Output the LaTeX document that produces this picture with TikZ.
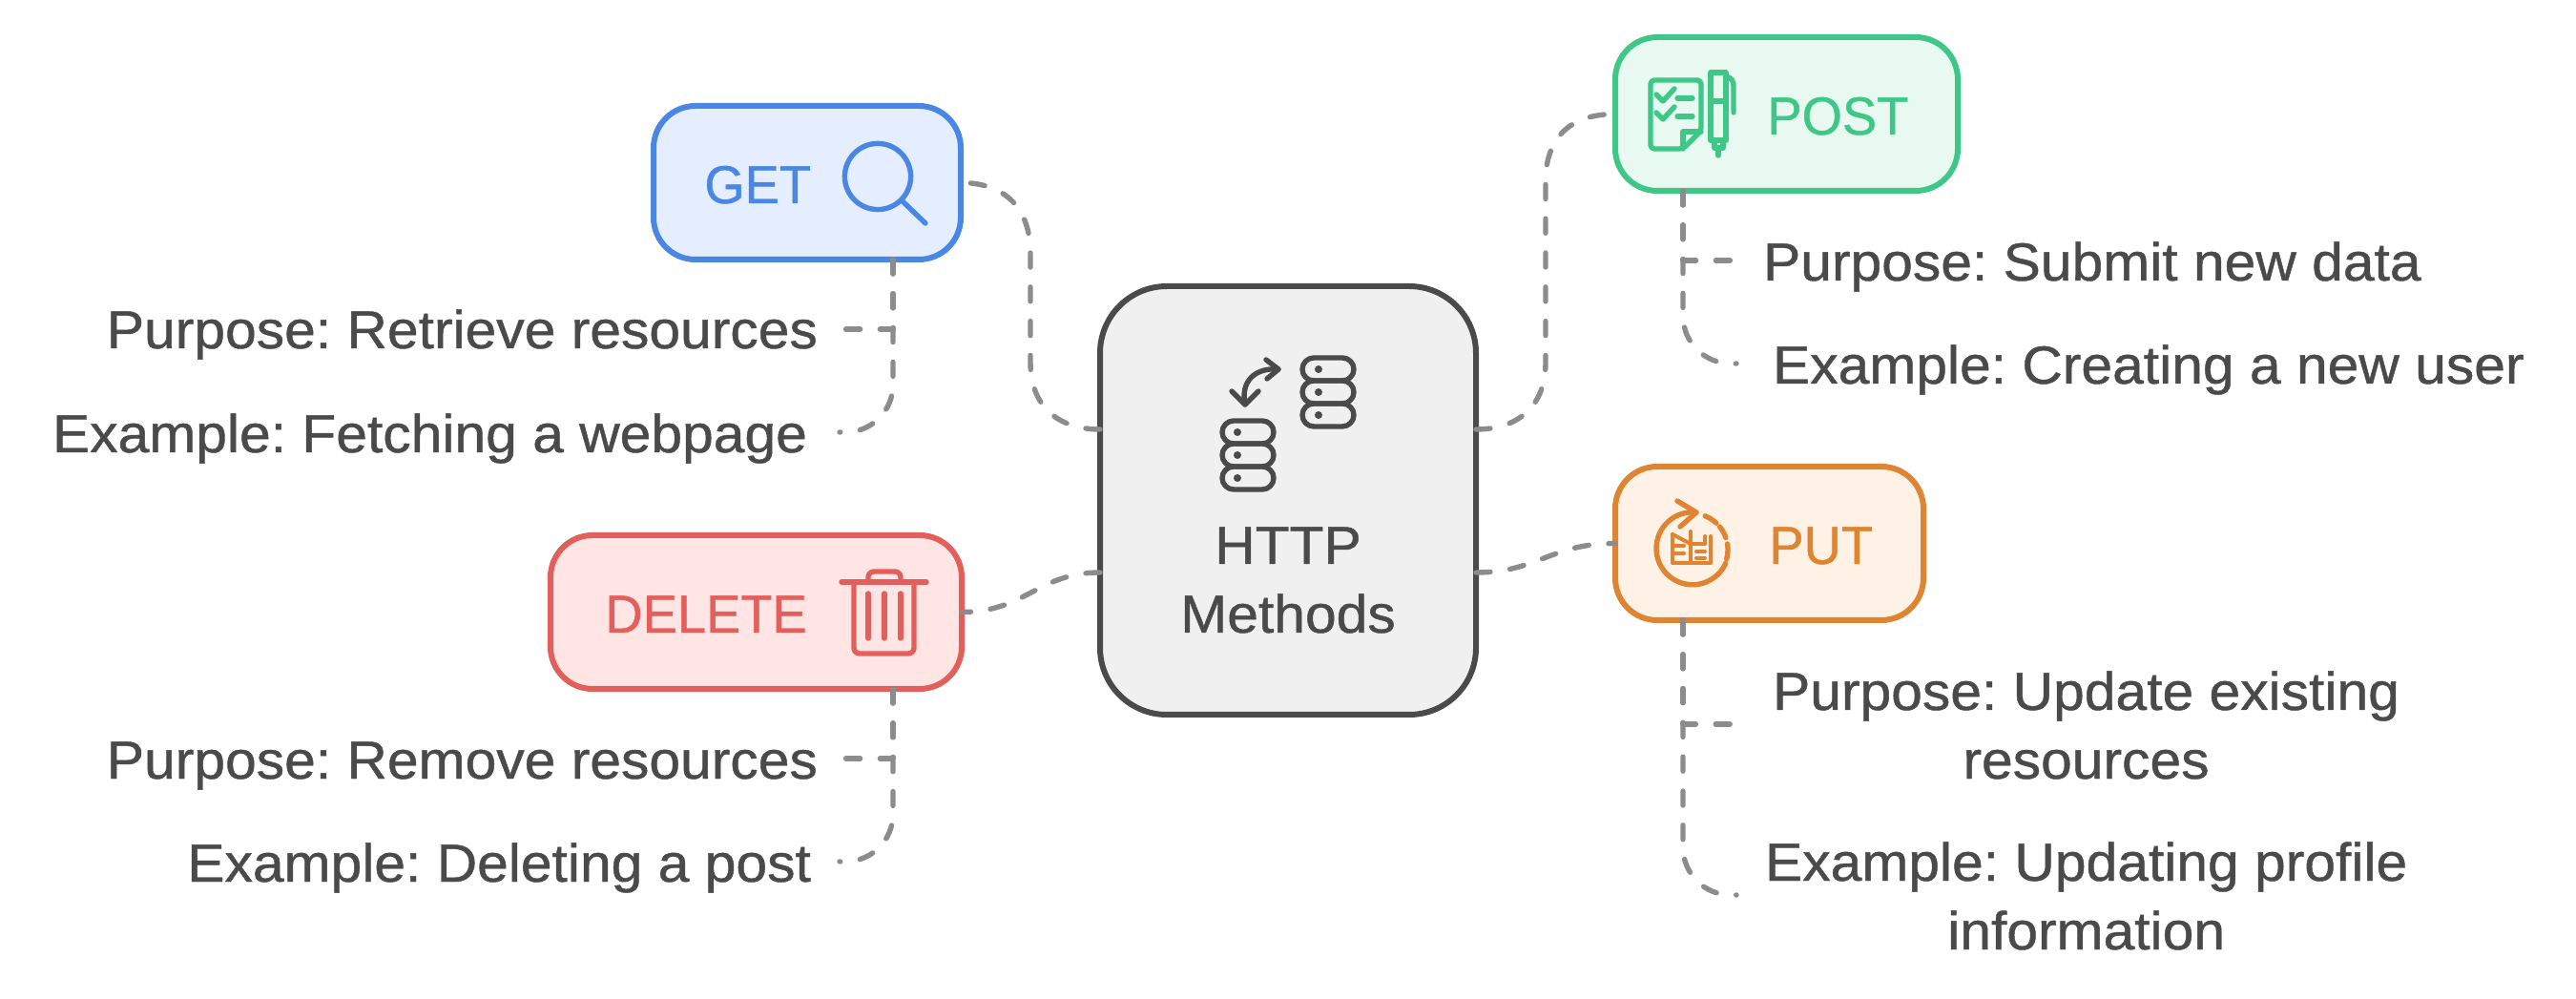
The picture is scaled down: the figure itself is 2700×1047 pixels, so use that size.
\documentclass[tikz,border=0pt]{standalone}
\usepackage{fontspec}
\setmainfont[FakeStretch=1.05,FakeBold=0.8]{Liberation Sans}
\newfontfamily\boxfont[FakeStretch=0.97,FakeBold=0.8]{Liberation Sans}
\usetikzlibrary{calc}
\definecolor{mygrey}{RGB}{74,74,74}
\definecolor{mylink}{RGB}{140,140,140}
\definecolor{myblue}{RGB}{74,134,227}
\definecolor{mybluebg}{RGB}{228,238,254}
\definecolor{mygreen}{RGB}{62,199,135}
\definecolor{mygreenbg}{RGB}{232,249,242}
\definecolor{myorange}{RGB}{223,132,49}
\definecolor{myorangebg}{RGB}{254,241,230}
\definecolor{myred}{RGB}{227,95,91}
\definecolor{myredbg}{RGB}{255,230,229}
\definecolor{mycenterbg}{RGB}{240,240,240}

\begin{document}
\begin{tikzpicture}[x=0.5pt,y=-0.5pt,line cap=round,line join=round]
	\tikzstyle{box}=[draw,line width=3pt,rounded corners=22pt,inner sep=0pt,outer sep=0pt];
	\tikzstyle{word}=[font=\fontsize{28}{36}\selectfont\frenchspacing,inner sep=0pt,outer sep=0pt];
	\tikzstyle{boxword}=[font=\fontsize{28}{36}\boxfont,inner sep=0pt,anchor=base west];
	\tikzstyle{lab}=[word,text=mygrey,align=center];
	\tikzstyle{link}=[draw=mylink,line width=2.7pt,dash pattern=on 7.5pt off 10.4pt];
	\tikzstyle{icon}=[line width=2.7pt];
	\useasboundingbox (0,0) rectangle (2700,1047);
	\node[box,draw=mygrey,fill=mycenterbg,minimum width=197pt,minimum height=224.5pt,rounded corners=35pt] (center) at (1350,524.5) {};
	\node[box,draw=myblue,fill=mybluebg,minimum width=161pt,minimum height=80.5pt] (get)    at (846,191.5)   {};
	\node[box,draw=myred,fill=myredbg,minimum width=215.5pt,minimum height=80.5pt] (delete) at (792.5,641.5) {};
	\node[box,draw=mygreen,fill=mygreenbg,minimum width=179.5pt,minimum height=80.5pt] (post) at (1872.5,119.5) {};
	\node[box,draw=myorange,fill=myorangebg,minimum width=161.5pt,minimum height=80.5pt] (put) at (1854.5,569.5) {};
	\node[lab,anchor=base] (centertext) at (1350,663) {HTTP\\Methods};
	\node[boxword,text=myblue]   (gettext)    at (738,213)  {GET};
	\node[boxword,text=myred]    (deletetext) at (634,663)  {DELETE};
	\node[boxword,text=mygreen]  (posttext)   at (1852,141) {POST};
	\node[boxword,text=myorange] (puttext)    at (1854,591) {PUT};
	\node[lab,anchor=base east,inner xsep=13pt]   (getpurpose)    at (883,365)  {Purpose: Retrieve resources};
	\node[lab,anchor=base east,inner xsep=17pt]   (getexample)    at (880,474)  {Example: Fetching a webpage};
	\node[lab,anchor=base east,inner xsep=13pt]   (deletepurpose) at (883,816)  {Purpose: Remove resources};
	\node[lab,anchor=base east,inner xsep=15pt]   (deleteexample) at (880,924)  {Example: Deleting a post};
	\node[lab,anchor=base west,inner xsep=15.5pt] (postpurpose)   at (1817,294) {Purpose: Submit new data};
	\node[lab,anchor=base west,inner xsep=19pt]   (postexample)   at (1820,402) {Example: Creating a new user};
	\node[lab,anchor=base west,inner xsep=20.5pt] (putpurpose)    at (1817,816) {Purpose: Update existing\\resources};
	\node[lab,anchor=base west,inner xsep=15pt]   (putexample)    at (1820,995) {Example: Updating profile\\information};
	\coordinate (getfork)    at (936,345);
	\coordinate (getend)     at (936,453);
	\coordinate (deletefork) at (936,795);
	\coordinate (deleteend)  at (936,903);
	\coordinate (postfork)   at (1764,273);
	\coordinate (postend)    at (1764,381);
	\coordinate (putfork)    at (1764,759);
	\coordinate (putend)     at (1764,938);
	\coordinate (centerlo)   at (0,600);
	\coordinate (centerhi)   at (0,450);
	\draw[link] (center.west |- centerhi) .. controls +(-45,0) and (1080,425) .. (1080,380) -- (1080,265) .. controls (1080,220) and (1055,191.5) .. (get.east);
	\draw[link] (center.west |- centerlo) .. controls +(-65,0) and (1075,641.5) .. (delete.east);
	\draw[link] (center.east |- centerhi) .. controls +(45,0) and (1620,425) .. (1620,380) -- (1620,190) .. controls (1620,145) and (1645,119.5) .. (post.west);
	\draw[link] (center.east |- centerlo) .. controls +(65,0) and (1625,569.5) .. (put.west);
	\draw[link] (get.south -| getfork) -- (getfork) -- (getfork -| getpurpose.east);
	\draw[link,rounded corners=25pt] (get.south -| getend) |- (getend -| getexample.east);
	\draw[link] (delete.south -| deletefork) -- (deletefork) -- (deletefork -| deletepurpose.east);
	\draw[link,rounded corners=25pt] (delete.south -| deleteend) |- (deleteend -| deleteexample.east);
	\draw[link] (post.south -| postfork) -- (postfork) -- (postfork -| postpurpose.west);
	\draw[link,rounded corners=25pt] (post.south -| postend) |- (postend -| postexample.west);
	\draw[link] (put.south -| putfork) -- (putfork) -- (putfork -| putpurpose.west);
	\draw[link,rounded corners=25pt] (put.south -| putend) |- (putend -| putexample.west);
	\foreach \x/\y/\d in {1365/375/1382,1281/441/1297} {
		\foreach \k in {0,24,48} {
			\draw[icon,draw=mygrey,rounded corners=6pt] (\x,\y+\k) rectangle ++(54,24);
			\fill[mygrey] (\d,\y+\k+12) circle (2pt);
		}
	}
	\draw[icon,draw=mygrey] (1305,424) .. controls (1300,400) and (1315,385) .. (1340,387);
	\draw[icon,draw=mygrey] (1291,410) -- (1305,424) -- (1319,410);
	\draw[icon,draw=mygrey] (1327,377) -- (1340,387) -- (1328,397);
	\draw[icon,draw=myblue] (920,185) circle (17.3pt);
	\draw[icon,draw=myblue] (945,210) -- (970,234);
	\draw[icon,draw=myred] (882,610) -- (971,610);
	\draw[icon,draw=myred,rounded corners=3pt] (895,610) -- (895,685) -- (958,685) -- (958,610);
	\draw[icon,draw=myred,rounded corners=3pt] (910,610) -- (910,599) -- (944,599) -- (944,610);
	\foreach \x in {910,927,944} {
		\draw[icon,draw=myred] (\x,622) -- (\x,669);
	}
	\draw[icon,draw=mygreen,rounded corners=2pt] (1730,84) -- (1783,84) -- (1783,137) -- (1764,156) -- (1730,156) -- cycle;
	\draw[icon,draw=mygreen] (1764,156) -- (1764,138) -- (1783,138);
	\foreach \y in {0,19} {
		\draw[icon,draw=mygreen] (1736,99+\y) -- (1743,106+\y) -- (1755,93+\y);
		\draw[icon,draw=mygreen] (1758,103+\y) -- (1774,103+\y);
	}
	\draw[icon,draw=mygreen] (1793,76) rectangle (1809,147);
	\draw[icon,draw=mygreen] (1793,106) -- (1809,106);
	\draw[icon,draw=mygreen] (1810,80) .. controls (1815,82) and (1817,85) .. (1817,90) -- (1817,118);
	\draw[icon,draw=mygreen] (1797,148) -- (1797,155) -- (1806,155) -- (1806,148);
	\draw[icon,draw=mygreen] (1801,155) -- (1801,163);
	\draw[icon,draw=myorange] (1778,537) arc[start angle=84,end angle=336,radius=19pt];
	\foreach \a/\b in {-15/9,19/39,47/68} {
		\draw[icon,draw=myorange] ($(1773,576)+(\a:19pt)$) arc[start angle=\a,end angle=\b,radius=19pt];
	}
	\draw[icon,draw=myorange] (1758,525) -- (1778,537) -- (1761,552);
	\draw[icon,draw=myorange,line width=2pt] (1753,560) -- (1753,590) -- (1793,590) -- (1793,562);
	\draw[icon,draw=myorange,line width=2pt] (1753,560) -- (1772,570);
	\draw[icon,draw=myorange,line width=2pt] (1772,557) -- (1772,590);
	\draw[icon,draw=myorange,line width=2pt] (1787,562) -- (1787,570) -- (1772,570);
	\foreach \y in {572,580} {
		\draw[icon,draw=myorange,line width=2pt] (1753,\y) -- (1765,\y);
	}
	\foreach \y in {578,585} {
		\draw[icon,draw=myorange,line width=2pt] (1778,\y) -- (1787,\y);
	}
\end{tikzpicture}
\end{document}
